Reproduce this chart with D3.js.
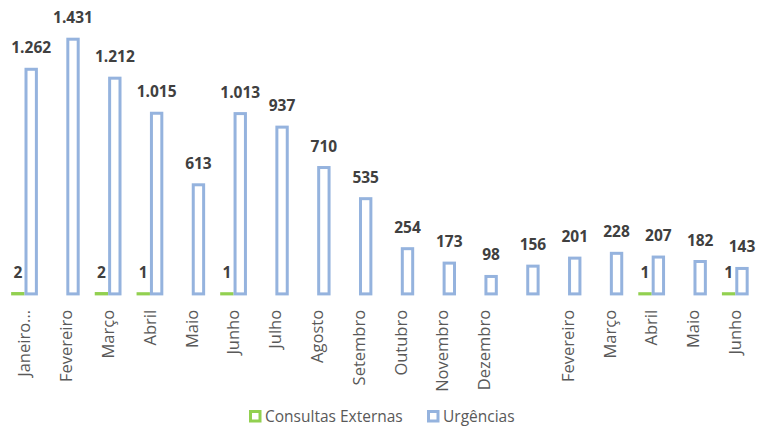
<!DOCTYPE html>
<html>
<head>
<meta charset="utf-8">
<script src="https://cdn.jsdelivr.net/npm/d3@7"></script>
<style>
  html, body { margin: 0; padding: 0; background: #fff; }
  svg { display: block; }
</style>
</head>
<body>
<svg id="chart" width="757" height="427"></svg>
<script>
const categories = ["Janeiro...", "Fevereiro", "Março", "Abril", "Maio", "Junho", "Julho", "Agosto",
  "Setembro", "Outubro", "Novembro", "Dezembro", "", "Fevereiro", "Março", "Abril", "Maio", "Junho"];
const consultasExternas = [2, 0, 2, 1, 0, 1, 0, 0, 0, 0, 0, 0, 0, 0, 0, 1, 0, 1];
const urgencias = [1262, 1431, 1212, 1015, 613, 1013, 937, 710, 535, 254, 173, 98, 156, 201, 228, 207, 182, 143];
const seriesNames = ["Consultas Externas", "Urgências"];
const seriesColors = ["#92D050", "#95B3DE"];

(function () {
const svg = d3.select("#chart");
const baseline = 293.9, plotTop = 39.2;
const sw = 3;

const x = d3.scaleBand().domain(d3.range(categories.length)).range([3.6, 756.2])
  .paddingInner(0.36).paddingOuter(0.18);
const x1 = d3.scaleBand().domain([0, 1]).range([0, x.bandwidth()]);
const y = d3.scaleLinear().domain([0, d3.max(urgencias)]).range([baseline, plotTop]);

const series = [consultasExternas, urgencias];
series.forEach((vals, s) => {
  const g = svg.append("g");
  vals.forEach((v, i) => {
    if (v <= 0) return;
    const bx = x(i) + x1(s);
    const by = y(v);
    g.append("rect")
      .attr("x", bx + sw / 2).attr("y", by)
      .attr("width", x1.bandwidth() - sw).attr("height", Math.max(baseline - by, 0.01))
      .attr("fill", "#fff").attr("stroke", seriesColors[s]).attr("stroke-width", sw);
    g.append("text")
      .attr("x", bx + x1.bandwidth() / 2).attr("y", by - 16)
      .attr("text-anchor", "middle")
      .attr("font-family", "Open Sans, sans-serif").attr("font-weight", "bold")
      .attr("font-size", 15.5).attr("fill", "#404040")
      .text(d3.format(",")(v).replace(/,/g, "."));
  });
});

// category labels
const axis = d3.axisBottom(x).tickSize(0).tickFormat(i => categories[i]);
const ax = svg.append("g").attr("transform", `translate(0,${baseline})`).call(axis);
ax.select(".domain").remove();
ax.selectAll("text")
  .attr("font-family", "Open Sans, sans-serif").attr("font-size", 16.5).attr("fill", "#595959")
  .attr("transform", "rotate(-90)")
  .attr("text-anchor", "end")
  .attr("x", -16).attr("y", 0).attr("dy", "0.35em");

// legend
const legend = svg.append("g");
const legX = [249, 427];
seriesNames.forEach((name, s) => {
  legend.append("rect").attr("x", legX[s] + 1.5).attr("y", 411.5).attr("width", 9.5).attr("height", 9.5)
    .attr("fill", "#fff").attr("stroke", seriesColors[s]).attr("stroke-width", sw);
  legend.append("text").attr("x", legX[s] + 16).attr("y", 421.5)
    .attr("font-family", "Open Sans, sans-serif").attr("font-size", 15.5).attr("fill", "#595959")
    .text(name);
});
})();
</script>
</body>
</html>
